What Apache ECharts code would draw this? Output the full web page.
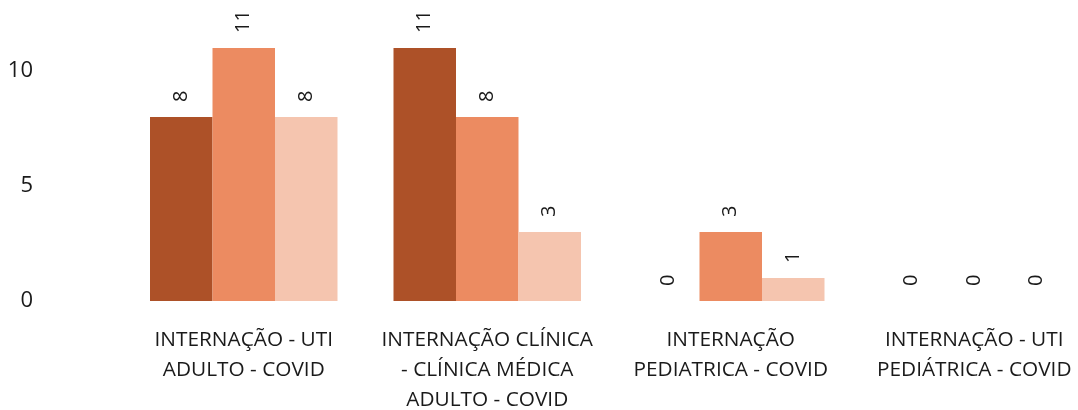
<!DOCTYPE html>
<html>
<head>
<meta charset="utf-8">
<script src="https://cdn.jsdelivr.net/npm/echarts@6/dist/echarts.min.js"></script>
<style>
html,body{margin:0;padding:0;background:#fff;}
#c{width:1078px;height:410px;}
</style>
</head>
<body>
<div id="c"></div>
<script>
const categories = [
  "INTERNAÇÃO - UTI\nADULTO - COVID",
  "INTERNAÇÃO CLÍNICA\n- CLÍNICA MÉDICA\nADULTO - COVID",
  "INTERNAÇÃO\nPEDIATRICA - COVID",
  "INTERNAÇÃO - UTI\nPEDIÁTRICA - COVID"
];
const series1 = [8, 11, 0, 0];
const series2 = [11, 8, 3, 0];
const series3 = [8, 3, 1, 0];
const yTicks = [0, 5, 10];
const colors = ["#AD5128", "#EC8B61", "#F5C5AF"];

const font = "'Segoe UI','Open Sans','Noto Sans',sans-serif";
const chart = echarts.init(document.getElementById('c'), null, {renderer: 'canvas'});

function mkSeries(data, color) {
  return {
    type: 'bar',
    data: data,
    barGap: '0%',
    barCategoryGap: '23%',
    itemStyle: {color: color},
    label: {
      show: true,
      position: 'top',
      rotate: 90,
      align: 'left',
      verticalAlign: 'middle',
      distance: 15,
      color: '#1a1a1a',
      fontSize: 20,
      fontFamily: font
    }
  };
}

chart.setOption({
  animation: false,
  grid: {left: 122, top: 48, width: 974, height: 253, outerBoundsMode: 'none', containLabel: false},
  xAxis: {
    type: 'category',
    data: categories,
    axisLine: {show: false},
    axisTick: {show: false},
    axisLabel: {
      interval: 0,
      margin: 24,
      color: '#1a1a1a',
      fontSize: 20.8,
      lineHeight: 30,
      fontFamily: font
    }
  },
  yAxis: {
    type: 'value',
    min: 0,
    max: 11,
    interval: 5,
    splitLine: {show: false},
    axisLine: {show: false},
    axisTick: {show: false},
    axisLabel: {
      showMaxLabel: false,
      margin: 89,
      padding: [4, 0, 0, 0],
      color: '#1a1a1a',
      fontSize: 22,
      fontFamily: font,
      formatter: function (v) { return yTicks.indexOf(v) >= 0 ? String(v) : ''; }
    }
  },
  series: [mkSeries(series1, colors[0]), mkSeries(series2, colors[1]), mkSeries(series3, colors[2])]
});
</script>
</body>
</html>
